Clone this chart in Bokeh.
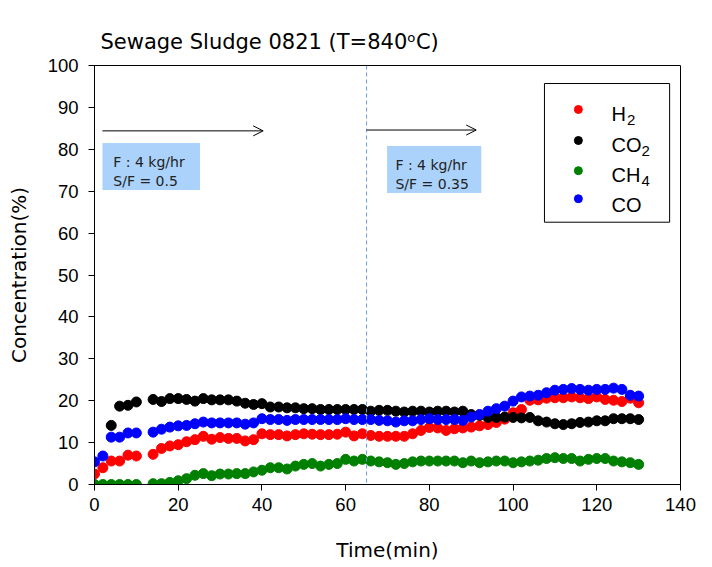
from bokeh.plotting import figure
from bokeh.models import Range1d, Label, BoxAnnotation, Span, Arrow, OpenHead, FixedTicker
from bokeh.embed import file_html
from bokeh.resources import INLINE

# ---------------- data ----------------
time = [0, 2, 4, 6, 8, 10,
        14, 16, 18, 20, 22, 24, 26, 28, 30, 32, 34, 36, 38, 40, 42,
        44, 46, 48, 50, 52, 54, 56, 58, 60, 62, 64,
        66, 68, 70, 72, 74, 76, 78, 80, 82, 84, 86,
        88, 90, 92, 94, 96, 98, 100, 102, 104, 106, 108,
        110, 112, 114, 116, 118, 120, 122, 124, 126, 128, 130]

h2 = [2.5, 4.0, 5.6, 5.6, 7.0, 6.8,
      7.2, 8.6, 9.2, 9.5, 10.2, 10.7, 11.5, 10.8, 11.2, 11.0, 11.0, 10.4, 10.7, 12.1, 11.9,
      11.9, 11.6, 11.9, 12.1, 12.0, 11.9, 11.9, 12.0, 12.5, 11.6, 12.1,
      11.7, 11.5, 11.5, 11.5, 11.5, 12.1, 12.9, 13.6, 13.5, 12.9, 13.3,
      13.5, 13.7, 14.0, 14.3, 14.8, 15.6, 17.1, 17.9, 20.1, 20.2, 20.6,
      20.7, 20.7, 20.9, 20.7, 20.5, 20.9, 20.3, 20.1, 19.8, 20.6, 19.5]

ch4 = [0.0, 0.0, 0.0, 0.0, 0.0, 0.0,
       0.2, 0.2, 0.5, 0.9, 1.4, 2.2, 2.6, 2.1, 2.5, 2.5, 2.6, 2.6, 3.0, 3.4, 4.0,
       4.0, 3.7, 4.4, 4.8, 5.0, 4.4, 4.8, 5.0, 6.0, 5.6, 6.0,
       5.6, 5.4, 5.2, 4.8, 5.0, 5.4, 5.6, 5.6, 5.6, 5.6, 5.6,
       5.2, 5.6, 5.2, 5.4, 5.6, 5.6, 5.2, 5.4, 5.6, 5.8, 6.2,
       6.4, 6.2, 6.2, 5.6, 6.0, 6.2, 6.2, 5.6, 5.4, 5.2, 4.8]

co = [5.4, 6.8, 11.3, 11.3, 12.3, 12.3,
      12.5, 13.2, 13.7, 14.0, 14.1, 14.5, 14.9, 14.7, 14.7, 14.7, 14.7, 14.4, 14.7, 15.7, 15.5,
      15.5, 15.3, 15.5, 15.5, 15.5, 15.5, 15.5, 15.5, 15.7, 15.5, 15.5,
      15.5, 15.3, 15.2, 14.9, 15.2, 15.2, 15.5, 15.7, 15.5, 15.5, 15.5,
      15.3, 16.1, 16.7, 17.5, 18.1, 18.7, 19.9, 20.9, 21.1, 21.3, 21.9,
      22.5, 22.7, 22.9, 22.7, 22.5, 22.7, 22.7, 23.0, 22.7, 21.3, 21.1]

co2_time = [4, 6, 8, 10,
            14, 16, 18, 20, 22, 24, 26, 28, 30, 32, 34, 36, 38, 40, 42,
            44, 46, 48, 50, 52, 54, 56, 58, 60, 62, 64,
            66, 68, 70, 72, 74, 76, 78, 80, 82, 84, 86,
            88, 90, 92, 94, 96, 98, 100, 102, 104, 106, 108,
            110, 112, 114, 116, 118, 120, 122, 124, 126, 128, 130]

co2 = [14.1, 18.7, 18.9, 19.7,
       20.3, 19.8, 20.5, 20.5, 20.3, 19.9, 20.5, 20.2, 20.2, 20.2, 19.9, 19.4, 19.1, 19.3, 18.5,
       18.5, 18.3, 18.3, 18.1, 18.1, 17.9, 17.9, 17.9, 17.9, 17.9, 17.9,
       17.5, 17.7, 17.7, 17.5, 17.3, 17.5, 17.5, 17.3, 17.5, 17.5, 17.3,
       17.5, 16.7, 16.5, 16.0, 16.0, 16.1, 16.0, 15.9, 16.0, 15.2, 14.9,
       14.5, 14.3, 14.5, 14.8, 14.9, 15.2, 15.2, 15.7, 15.7, 15.7, 15.5]

x_ticks = [0, 20, 40, 60, 80, 100, 120, 140]
y_ticks = [0, 10, 20, 30, 40, 50, 60, 70, 80, 90, 100]

legend_names = [("H", "2"), ("CO", "2"), ("CH", "4"), ("CO", "")]
legend_colors = ["#FF0000", "#000000", "#008000", "#0000FF"]

title_text = "Sewage Sludge 0821 (T=840\u1d52C)"
split_time = 65
box_texts = [("F : 4 kg/hr", "S/F = 0.5"), ("F : 4 kg/hr", "S/F = 0.35")]

# ---------------- figure ----------------
p = figure(width=712, height=567, output_backend="svg", toolbar_location=None,
           x_range=Range1d(0, 140), y_range=Range1d(0, 100),
           min_border_left=94, min_border_right=32, min_border_top=65, min_border_bottom=83)

p.title.text = title_text
p.title.text_font = "DejaVu Sans"
p.title.text_font_size = "21px"
p.title.text_font_style = "normal"
p.title.text_color = "black"
p.title.offset = 6
p.title.standoff = 24

p.grid.visible = False
p.outline_line_color = "black"
p.outline_line_width = 1
p.background_fill_color = "white"
p.border_fill_color = "white"

for ax in (p.xaxis[0], p.yaxis[0]):
    ax.major_tick_in = 0
    ax.major_tick_out = 6
    ax.minor_tick_in = 0
    ax.minor_tick_out = 0
    ax.axis_line_color = "black"
    ax.major_tick_line_color = "black"
    ax.major_label_text_font = "Liberation Sans"
    ax.major_label_text_font_size = "18.5px"
    ax.major_label_text_color = "black"
    ax.axis_label_text_font = "DejaVu Sans"
    ax.axis_label_text_font_size = "20px"
    ax.axis_label_text_font_style = "normal"
    ax.axis_label_text_color = "black"

p.xaxis.ticker = FixedTicker(ticks=x_ticks)
p.yaxis.ticker = FixedTicker(ticks=y_ticks)
p.xaxis.axis_label = "Time(min)"
p.yaxis.axis_label = "Concentration(%)"
p.xaxis.major_label_standoff = 7
p.yaxis.major_label_standoff = 10
p.xaxis.axis_label_standoff = 24
p.yaxis.axis_label_standoff = 14

# ---------------- annotations ----------------
p.add_layout(Span(location=split_time, dimension="height", line_color="#6E9AD2",
                  line_dash="4 3", line_width=1))

p.add_layout(Arrow(end=OpenHead(size=10, line_width=1, line_color="black"),
                   x_start=1.9, y_start=84.4, x_end=40.3, y_end=84.4,
                   line_width=1, line_color="black"))
p.add_layout(Arrow(end=OpenHead(size=10, line_width=1, line_color="black"),
                   x_start=split_time, y_start=84.6, x_end=91.2, y_end=84.6,
                   line_width=1, line_color="black"))

box_fill = "#AAD2FA"
p.add_layout(BoxAnnotation(left=1.9, right=25.2, top=81.5, bottom=70.3,
                           fill_color=box_fill, fill_alpha=1.0, line_color=None))
p.add_layout(BoxAnnotation(left=69.9, right=92.4, top=80.8, bottom=69.6,
                           fill_color=box_fill, fill_alpha=1.0, line_color=None))

box_pos = [(4.5, 76.9, 72.5), (71.9, 76.3, 71.8)]
for (l1, l2), (bx, y1, y2) in zip(box_texts, box_pos):
    for txt, yy in ((l1, y1), (l2, y2)):
        p.add_layout(Label(x=bx, y=yy, text=txt, text_font="DejaVu Sans",
                           text_font_size="14px", text_color="#222222",
                           text_baseline="alphabetic", text_align="left"))

# ---------------- legend frame (under the marks) ----------------
p.add_layout(BoxAnnotation(left=107.5, right=137.4, top=95.7, bottom=62.6,
                           fill_color="white", fill_alpha=1.0, level="underlay",
                           line_color="black", line_width=1, line_alpha=1.0))

# ---------------- data marks ----------------
p.scatter(time, h2, size=10, color=legend_colors[0])
p.scatter(co2_time, co2, size=10, color=legend_colors[1])
p.scatter(time, ch4, size=10, color=legend_colors[2])
p.scatter(time, co, size=10, color=legend_colors[3])

# ---------------- legend entries ----------------
dot_y = [89.5, 82.1, 74.9, 68.2]
base_y = [88.5, 81.0, 73.9, 66.6]
sub_x = [127.2, 130.7, 130.7, None]
p.scatter([115.6] * 4, dot_y, size=8, color=legend_colors)
for (main, sub), by, sx in zip(legend_names, base_y, sub_x):
    p.add_layout(Label(x=123.5, y=by, text=main, text_font="Liberation Sans",
                       text_font_size="20px", text_color="black",
                       text_baseline="alphabetic"))
    if sub:
        p.add_layout(Label(x=sx, y=by, y_offset=-6, text=sub, text_font="Liberation Sans",
                           text_font_size="15px", text_color="black",
                           text_baseline="alphabetic"))

open("out.html", "w").write(file_html(p, INLINE))
